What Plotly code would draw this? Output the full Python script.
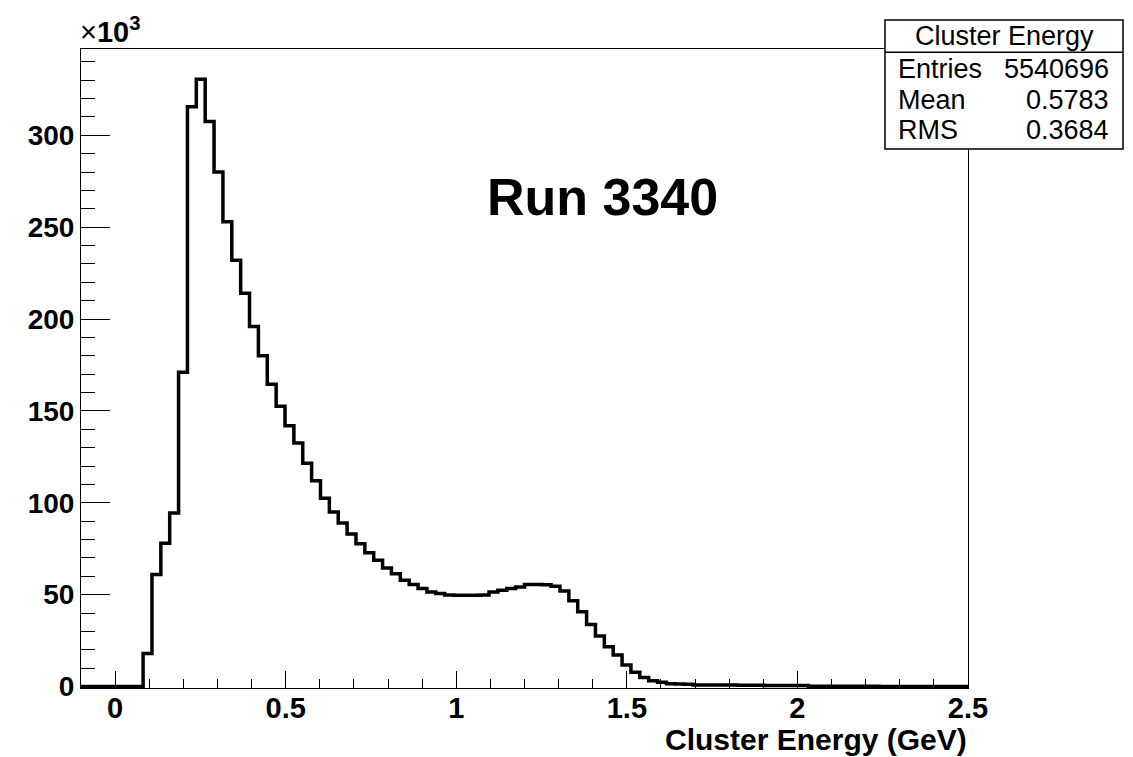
import numpy as np
import plotly.graph_objects as go

# ---------------- data ----------------
x_min, x_max, n_bins = -0.1, 2.5, 100
# bin contents in units of 10^3 entries
counts_k = [
    0, 0, 0, 0, 0, 0, 0, 18, 61, 78,
    94.5, 171, 315.5, 330.5, 307.5, 280, 253, 232, 214, 196,
    180, 164.5, 152.5, 142, 132.5, 121.5, 112, 102.5, 95, 89,
    83, 77.7, 72.8, 68.7, 64.5, 61.4, 57.8, 55.5, 53.3, 51.5,
    50.6, 49.8, 49.7, 49.7, 49.7, 49.8, 51.5, 52.4, 53.3, 54.2,
    55.5, 55.6, 55.4, 54.6, 52, 46.7, 40.7, 33.8, 27.5, 21.7,
    17.1, 11.7, 7.8, 4.9, 3.2, 2.3, 1.5, 1.4, 1.3, 0.9,
    0.9, 0.8, 0.8, 0.8, 0.7, 0.7, 0.7, 0.6, 0.6, 0.6,
    0.6, 0.5, 0.15, 0.15, 0.1, 0.1, 0.1, 0.1, 0.1, 0.1,
    0.05, 0.05, 0.05, 0.05, 0.05, 0.05, 0.05, 0.05, 0.05, 0.05,
]
stats_title = "Cluster Energy"
stats_labels = ["Entries", "Mean", "RMS"]
stats_values = ["5540696", "0.5783", "0.3684"]
run_label = "Run 3340"
x_title = "Cluster Energy (GeV)"

# ---------------- figure ----------------
W, H = 1133, 757
L, R, T, B = 81, 968, 49, 688  # plot frame in pixels

def px2x(px):
    return (px - L) / (R - L)

def py2y(py):
    return (B - py) / (B - T)

edges = np.linspace(x_min, x_max, n_bins + 1)
yvals = list(counts_k) + [counts_k[-1]]

FONT = "Liberation Sans, Arial, Helvetica, sans-serif"

fig = go.Figure()
fig.add_trace(go.Scatter(
    x=edges, y=yvals, mode="lines", line=dict(shape="hv", color="black", width=3.5),
    hoverinfo="skip", showlegend=False,
))

fig.update_layout(
    width=W, height=H, autosize=False,
    margin=dict(l=L, r=W - R, t=T, b=H - B, pad=0),
    paper_bgcolor="white", plot_bgcolor="white",
    font=dict(family=FONT, color="black"),
    showlegend=False,
)

fig.update_xaxes(
    range=[x_min, x_max], showgrid=False, zeroline=False,
    showline=True, linecolor="black", linewidth=1, mirror=True,
    ticks="inside", ticklen=17, tickcolor="black", tickwidth=1,
    tick0=0, dtick=0.5,
    minor=dict(ticks="inside", ticklen=9, dtick=0.1, tick0=0, tickcolor="black", tickwidth=1, showgrid=False),
    tickfont=dict(family=FONT, size=29, color="black", weight="bold"),
    ticklabelstandoff=-6,
)
fig.update_yaxes(
    range=[-0.8, 347], showgrid=False, zeroline=False,
    showline=True, linecolor="black", linewidth=1, mirror=True,
    ticks="inside", ticklen=29, tickcolor="black", tickwidth=1,
    tick0=0, dtick=50,
    minor=dict(ticks="inside", ticklen=14, dtick=10, tick0=0, tickcolor="black", tickwidth=1, showgrid=False),
    tickfont=dict(family=FONT, size=28, color="black", weight="bold"),
    ticklabelstandoff=0,
)

ann = []
# x-axis title, right aligned
ann.append(dict(text=x_title, xref="paper", yref="paper", x=px2x(969), y=py2y(721),
                xanchor="right", yanchor="top", showarrow=False,
                font=dict(family=FONT, size=30, color="black", weight="bold")))
# exponent label
ann.append(dict(text="×<b>10<sup>3</sup></b>", xref="paper", yref="paper", x=px2x(78), y=py2y(50),
                xanchor="left", yanchor="bottom", showarrow=False,
                font=dict(family=FONT, size=29, color="black")))
# Run label
ann.append(dict(text=run_label, xref="paper", yref="paper", x=px2x(602), y=py2y(197),
                xanchor="center", yanchor="middle", showarrow=False,
                font=dict(family=FONT, size=52, color="black", weight="bold")))

# stats box
bx0, bx1, by0, by1, bsep = 885, 1123, 20, 149, 52.3
shapes = [
    dict(type="rect", xref="paper", yref="paper", x0=px2x(bx0), x1=px2x(bx1), y0=py2y(by1), y1=py2y(by0),
         fillcolor="white", line=dict(color="black", width=1.5), layer="above"),
    dict(type="line", xref="paper", yref="paper", x0=px2x(bx0), x1=px2x(bx1), y0=py2y(bsep), y1=py2y(bsep),
         line=dict(color="black", width=1.5), layer="above"),
]
ann.append(dict(text=stats_title, xref="paper", yref="paper", x=px2x((bx0 + bx1) / 2), y=py2y(36),
                xanchor="center", yanchor="middle", showarrow=False,
                font=dict(family=FONT, size=27, color="black")))
row_y = [69, 100, 130]
for lab, val, ry in zip(stats_labels, stats_values, row_y):
    ann.append(dict(text=lab, xref="paper", yref="paper", x=px2x(896), y=py2y(ry),
                    xanchor="left", yanchor="middle", showarrow=False,
                    font=dict(family=FONT, size=27, color="black")))
    ann.append(dict(text=val, xref="paper", yref="paper", x=px2x(1111), y=py2y(ry),
                    xanchor="right", yanchor="middle", showarrow=False,
                    font=dict(family=FONT, size=27, color="black")))

fig.update_layout(annotations=ann, shapes=shapes)
fig.write_html("out.html")
